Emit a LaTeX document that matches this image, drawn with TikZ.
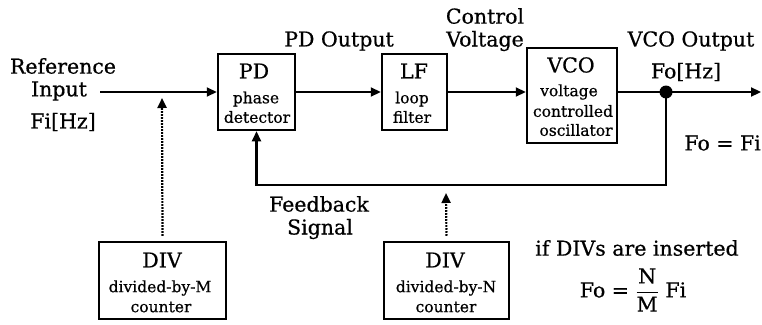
\documentclass[tikz,border=0pt]{standalone}
\usepackage{fontspec}
\setmainfont{DejaVu Serif}[FakeBold=0.6]
\usetikzlibrary{arrows.meta}
\tikzset{
  blk/.style={draw, line width=2.5pt, inner sep=0pt},
  conn/.style={line width=2.2pt},
  arr/.style={conn, -{Triangle[length=10pt,width=9pt]}},
  dotarr/.style={line width=2.2pt, dash pattern=on 1.6pt off 1.4pt, -{Triangle[length=10pt,width=9pt]}},
  big/.style={inner sep=0pt, font=\fontsize{20.5}{24}\selectfont},
  small/.style={inner sep=0pt, font=\fontsize{15.5}{18}\selectfont},
}
\begin{document}
\begin{tikzpicture}[x=1pt,y=-1pt]
\useasboundingbox (0,0) rectangle (762,324);
% boxes
\node[blk, minimum width=77pt, minimum height=76pt] (pd) at (256.5,92) {};
\node[blk, minimum width=65pt, minimum height=76pt] (lf) at (414.5,92) {};
\node[blk, minimum width=90pt, minimum height=95pt] (vco) at (572,95.5) {};
\node[blk, minimum width=127pt, minimum height=77pt] (divm) at (162.5,280.5) {};
\node[blk, minimum width=125pt, minimum height=77pt] (divn) at (446.5,280.5) {};
% box texts
\node[big] (pdt) at (254,71) {PD};
\node[small] (pdt1) at (256,99) {phase};
\node[small] (pdt2) at (257,117) {detector};
\node[big] (lft) at (414,71) {LF};
\node[small] (lft1) at (412,99) {loop};
\node[small] (lft2) at (412,117) {filter};
\node[big] (vcot) at (571,65) {VCO};
\node[small] (vcot1) at (569,92) {voltage};
\node[small] (vcot2) at (573,111) {controlled};
\node[small] (vcot3) at (576,130) {oscillator};
\node[big] (divmt) at (162,260) {DIV};
\node[small] (divmt1) at (160,288) {divided-by-M};
\node[small] (divmt2) at (161,307) {counter};
\node[big] (divnt) at (445,260) {DIV};
\node[small] (divnt1) at (446,288) {divided-by-N};
\node[small] (divnt2) at (446,307) {counter};
% labels
\node[big] (ref1) at (63,66) {Reference};
\node[big] (ref2) at (59,91) {Input};
\node[big] (ref3) at (63,122) {Fi[Hz]};
\node[big] (pdo) at (339,41) {PD Output};
\node[big] (cv1) at (485,16) {Control};
\node[big] (cv2) at (485,41) {Voltage};
\node[big] (vcoo) at (691,41) {VCO Output};
\node[big] (fohz) at (686,72) {Fo[Hz]};
\node[big, anchor=east] (fofi) at (761,143) {Fo = Fi};
\node[big] (fb1) at (319,204) {Feedback};
\node[big] (fb2) at (320,229) {Signal};
\node[big] (ifdiv) at (637,248) {if DIVs are inserted};
\node[big] (form) at (633,290) {Fo = $\displaystyle\frac{\mbox{N}}{\mbox{M}}$ Fi};
% connectors
\coordinate (in) at (100,92);
\coordinate (dot) at (666,92);
\coordinate (out) at (761,92);
\coordinate (fb) at (666,185);
\coordinate (mtip) at (162,98);
\coordinate (ntip) at (446,193);
\draw[arr] (in) -- (pd.west);
\draw[arr] (pd.east) -- (lf.west);
\draw[arr] (lf.east) -- (lf.east -| vco.west);
\draw[conn] (vco.east |- dot) -- (dot);
\draw[arr] (dot) -- (out);
\fill (dot) circle (6.5pt);
\draw[arr] (dot) -- (fb) -| (pd.south);
\draw[dotarr] ([yshift=5pt]divm.north) -- (mtip);
\draw[dotarr] ([yshift=5pt]divn.north) -- (ntip);
\end{tikzpicture}
\end{document}
